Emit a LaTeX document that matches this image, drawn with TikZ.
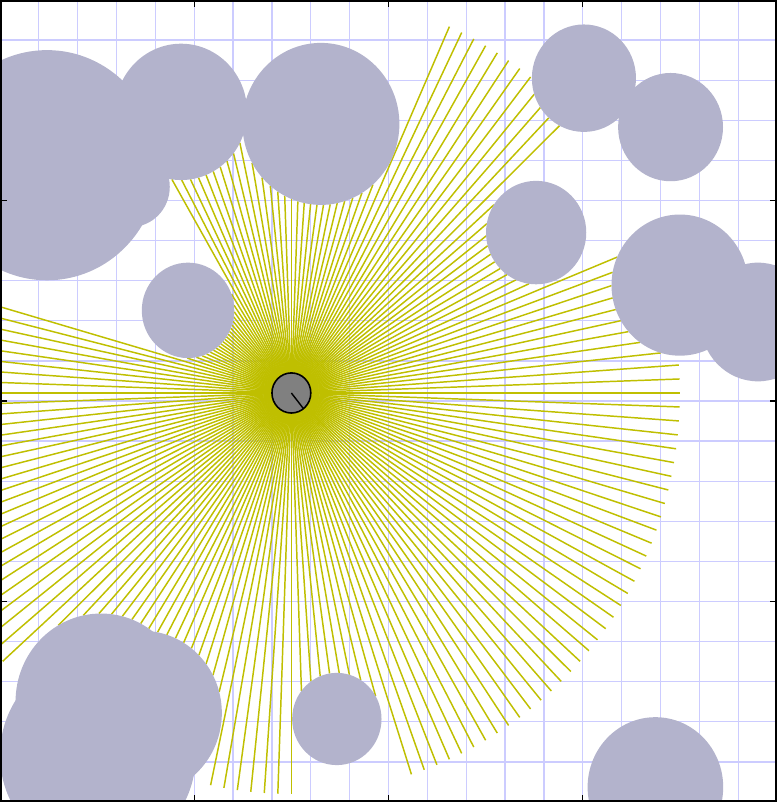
\documentclass[tikz,border=0pt]{standalone}
\definecolor{gridblue}{RGB}{204,204,255}
\definecolor{rayyellow}{RGB}{191,191,0}
\definecolor{obstcol}{RGB}{179,179,204}
\definecolor{robotgray}{RGB}{128,128,128}
\def\obstlist{1.21/15.88/2.87, 4.66/17.21/1.70, 3.37/15.34/1.00, 8.26/16.91/2.02, 15.03/18.05/1.34, 17.26/16.83/1.35, 13.80/14.20/1.29, 17.50/12.89/1.76, 19.51/11.97/1.48, 4.84/12.26/1.19, 2.60/2.50/2.20, 3.66/2.22/2.05, 2.52/1.17/2.52, 8.67/2.07/1.15, 16.87/0.37/1.745}
\begin{document}
\begin{tikzpicture}[x=0.3885cm,y=0.401cm,
  gridline/.style={draw=gridblue,line width=0.35pt},
  raystyle/.style={draw=rayyellow,line width=0.42pt},
  obstacle/.style={fill=obstcol},
  robotbody/.style={fill=robotgray,draw=black,line width=0.45pt},
  framestyle/.style={draw=black,line width=1.1pt},
  tickmark/.style={draw=black,line width=0.3pt}]
\useasboundingbox (0,0) rectangle (20,20);
\coordinate (robot) at (7.5,10.2);
\begin{scope}
\clip (0,0) rectangle (20,20);
\foreach \k in {1,...,19}{
  \draw[gridline] (\k,0) -- (\k,20);
  \draw[gridline] (0,\k) -- (20,\k);
}
\foreach \a in {0,2,...,358}{
  \xdef\dmin{10}
  \foreach \cx/\cy/\cr in \obstlist {
    \pgfmathsetmacro\ddx{\cx-7.5}
    \pgfmathsetmacro\ddy{\cy-10.2}
    \pgfmathsetmacro\tproj{\ddx*cos(\a)+\ddy*sin(\a)}
    \pgfmathsetmacro\pperp{\ddx*\ddx+\ddy*\ddy-\tproj*\tproj}
    \pgfmathtruncatemacro\hit{(\tproj>0)&&(\pperp<\cr*\cr)}
    \ifnum\hit=1
      \pgfmathsetmacro\dhit{\tproj-sqrt(\cr*\cr-\pperp)}
      \pgfmathsetmacro\dnew{min(\dmin,\dhit)}
      \xdef\dmin{\dnew}
    \fi
  }
  \draw[raystyle] (robot) -- ++(\a:\dmin);
}
\foreach \cx/\cy/\cr in \obstlist {
  \fill[obstacle] (\cx,\cy) circle[radius=\cr];
}
\end{scope}
\filldraw[robotbody] (robot) circle[radius=0.5];
\draw[black,line width=0.4pt] (robot) -- ++(-51.5:0.5);
\draw[framestyle] (0,0) rectangle (20,20);
\foreach \v in {5,10,15}{
  \draw[tickmark] (\v,0) -- ++(0,0.175);
  \draw[tickmark] (\v,20) -- ++(0,-0.175);
  \draw[tickmark] (0,\v) -- ++(0.18,0);
  \draw[tickmark] (20,\v) -- ++(-0.18,0);
}
\end{tikzpicture}
\end{document}
